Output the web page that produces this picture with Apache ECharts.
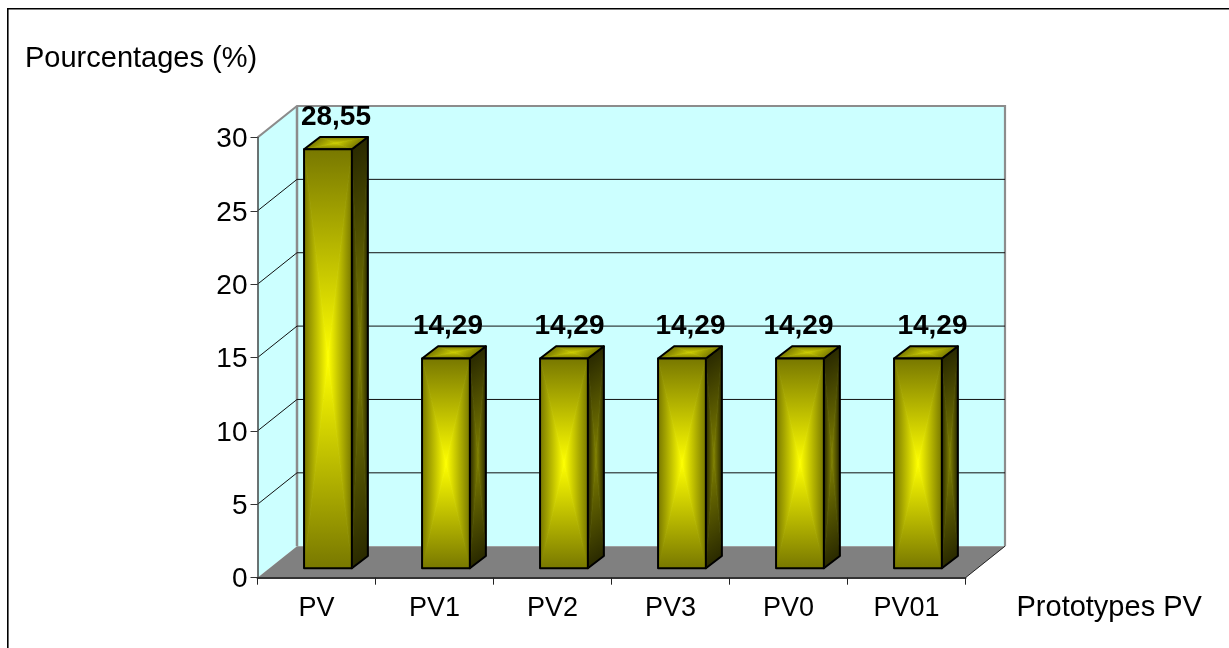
<!DOCTYPE html>
<html>
<head>
<meta charset="utf-8">
<title>Pourcentages par prototype PV</title>
<script src="https://cdn.jsdelivr.net/npm/echarts@6/dist/echarts.min.js"></script>
<style>
  html, body { margin: 0; padding: 0; background: #fff; }
  #chart { width: 1229px; height: 648px; }
</style>
</head>
<body>
<div id="chart"></div>
<script>
const categories = ['PV', 'PV1', 'PV2', 'PV3', 'PV0', 'PV01']
const percentages = [28.55, 14.29, 14.29, 14.29, 14.29, 14.29]
const yTicks = [0, 5, 10, 15, 20, 25, 30]
const xTitle = 'Prototypes PV'
const yTitle = 'Pourcentages (%)'

// fake 3d depth of the plot box, in px
const depthX = 39.5
const depthY = 31.5
// excel placed these labels by hand, they are not centred on the bars
const labelShift = [8, 2, 5.5, 8.5, -1.5, 14.5]
const fontName = '"Liberation Sans", Arial, sans-serif'

// one face with a rectangular "from centre" gradient: a triangle per edge
function gradientFace(corners, edgeColor, centerColor) {
  const cx = corners.reduce((s, p) => s + p[0], 0) / 4
  const cy = corners.reduce((s, p) => s + p[1], 0) / 4
  const parts = []
  corners.forEach((a, i) => {
    const b = corners[(i + 1) % 4]
    const ex = b[0] - a[0]
    const ey = b[1] - a[1]
    // foot of the perpendicular from the centre to this edge
    const t = ((cx - a[0]) * ex + (cy - a[1]) * ey) / (ex * ex + ey * ey)
    const fx = a[0] + t * ex
    const fy = a[1] + t * ey
    const fill = new echarts.graphic.LinearGradient(fx, fy, cx, cy, [
      { offset: 0, color: edgeColor },
      { offset: 1, color: centerColor }
    ], true)
    parts.push({
      type: 'polygon',
      shape: { points: [a, b, [cx, cy]] },
      // same gradient on the stroke hides the seams between triangles
      style: { fill, stroke: fill, lineWidth: 0.8 }
    })
  })
  parts.push({
    type: 'polygon',
    shape: { points: corners },
    style: { fill: 'none', stroke: '#000', lineWidth: 2, lineJoin: 'round' }
  })
  return parts
}

function renderWalls(params) {
  const c = params.coordSys
  const left = c.x
  const right = c.x + c.width
  const top = c.y
  const bottom = c.y + c.height
  return {
    type: 'group',
    children: [
      {
        type: 'polygon',
        shape: { points: [[left, top], [left + depthX, top - depthY], [left + depthX, bottom - depthY], [left, bottom]] },
        style: { fill: '#ccffff' }
      },
      {
        type: 'rect',
        shape: { x: left + depthX, y: top - depthY, width: c.width, height: c.height },
        style: { fill: '#ccffff' }
      },
      {
        type: 'polygon',
        shape: { points: [[left, bottom], [right, bottom], [right + depthX, bottom - depthY], [left + depthX, bottom - depthY]] },
        style: { fill: '#808080' }
      },
      {
        type: 'polyline',
        shape: { points: [[left, top], [left + depthX, top - depthY], [right + depthX, top - depthY], [right + depthX, bottom - depthY]] },
        style: { fill: 'none', stroke: '#8c8c8c', lineWidth: 2.2 }
      },
      {
        type: 'line',
        shape: { x1: left + depthX, y1: top - depthY, x2: left + depthX, y2: bottom - depthY },
        style: { stroke: '#8c8c8c', lineWidth: 2.5 }
      },
      {
        type: 'line',
        shape: { x1: right, y1: bottom, x2: right + depthX, y2: bottom - depthY },
        style: { stroke: '#222', lineWidth: 1 }
      }
    ]
  }
}

// gridline: slanted on the left wall, flat on the back wall
function renderGridline(params, api) {
  const c = params.coordSys
  const y = api.coord([0, api.value(1)])[1]
  return {
    type: 'polyline',
    shape: { points: [[c.x, y], [c.x + depthX, y - depthY], [c.x + c.width + depthX, y - depthY]] },
    style: { fill: 'none', stroke: '#111', lineWidth: 1 }
  }
}

function renderBar(params, api) {
  const base = api.coord([api.value(0), 0])
  const head = api.coord([api.value(0), api.value(1)])
  const band = api.size([1, 0])[0]
  const w = band * 0.405
  const sideX = depthX * 0.405
  const sideY = depthY * 0.39
  const x1 = base[0] + depthX * 0.29 - w / 2
  const x2 = x1 + w
  const yTop = head[1] - depthY * 0.3
  const yBot = base[1] - depthY * 0.3
  const text = String(api.value(1).toFixed(2)).replace('.', ',')

  return {
    type: 'group',
    children: [
      ...gradientFace([[x2, yTop], [x2 + sideX, yTop - sideY], [x2 + sideX, yBot - sideY], [x2, yBot]], '#2a2a00', '#808000'),
      ...gradientFace([[x1, yTop], [x1 + sideX, yTop - sideY], [x2 + sideX, yTop - sideY], [x2, yTop]], '#7a7a00', '#cccc00'),
      ...gradientFace([[x1, yTop], [x2, yTop], [x2, yBot], [x1, yBot]], '#787800', '#ffff00'),
      {
        type: 'text',
        z2: 10,
        style: {
          x: (x1 + x2) / 2 + labelShift[params.dataIndex],
          y: yTop - 32.5,
          text,
          fill: '#000',
          font: 'bold 28px ' + fontName,
          align: 'center',
          verticalAlign: 'middle'
        }
      }
    ]
  }
}

const chart = echarts.init(document.getElementById('chart'), null, { renderer: 'canvas' })

chart.setOption({
  animation: false,
  backgroundColor: '#fff',
  textStyle: { fontFamily: fontName },
  grid: { left: 257.5, top: 137.5, width: 708, height: 440.2 },
  graphic: [
    { type: 'line', shape: { x1: 7, y1: 8.7, x2: 1229, y2: 8.7 }, style: { stroke: '#000', lineWidth: 1.6 } },
    { type: 'line', shape: { x1: 7.8, y1: 8, x2: 7.8, y2: 648 }, style: { stroke: '#000', lineWidth: 1.6 } },
    {
      type: 'text',
      style: { x: 25, y: 59, text: yTitle, fill: '#000', font: '29px ' + fontName, align: 'left', verticalAlign: 'middle' }
    },
    {
      type: 'text',
      style: { x: 1016.5, y: 608, text: xTitle, fill: '#000', font: '29px ' + fontName, align: 'left', verticalAlign: 'middle' }
    }
  ],
  xAxis: {
    type: 'category',
    z: 5,
    data: categories,
    axisLine: { lineStyle: { color: '#333', width: 2 } },
    axisTick: { show: true, length: 7, lineStyle: { color: '#222', width: 1 } },
    axisLabel: { color: '#000', fontSize: 27, margin: 17 },
    splitLine: { show: false }
  },
  yAxis: {
    type: 'value',
    z: 5,
    min: yTicks[0],
    max: yTicks[yTicks.length - 1],
    interval: yTicks[1] - yTicks[0],
    axisLine: { show: true, lineStyle: { color: '#444', width: 1.5 } },
    axisTick: { show: true, length: 7, lineStyle: { color: '#333', width: 1 } },
    axisLabel: {
      color: '#000',
      margin: 10,
      formatter: '{tick|{value}}',
      // top padding nudges the digits down onto their tick
      rich: { tick: { fontSize: 28, padding: [4, 0, 0, 0] } }
    },
    splitLine: { show: false }
  },
  series: [
    {
      name: 'walls',
      type: 'custom',
      z: 1,
      silent: true,
      renderItem: renderWalls,
      data: [[0, 0]]
    },
    {
      name: 'gridlines',
      type: 'custom',
      z: 2,
      silent: true,
      renderItem: renderGridline,
      data: yTicks.slice(1, -1).map(t => [0, t])
    },
    {
      name: 'Pourcentages',
      type: 'custom',
      z: 3,
      renderItem: renderBar,
      encode: { x: 0, y: 1 },
      data: percentages.map((v, i) => [i, v])
    }
  ]
})
</script>
</body>
</html>
